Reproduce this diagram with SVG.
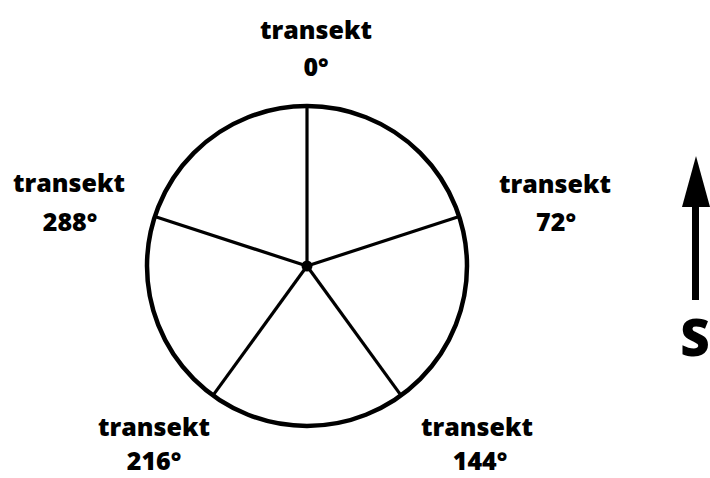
<svg xmlns="http://www.w3.org/2000/svg" width="710" height="478" viewBox="0 0 710 478">
<style>
.lbl{font-family:"Open Sans","Liberation Sans",sans-serif;font-weight:800;font-size:25px;fill:#000;text-anchor:middle}
.spoke{stroke:#000;stroke-width:3.2;fill:none}
</style>
<rect width="710" height="478" fill="#fff"/>
<g id="circle">
<circle cx="307" cy="266" r="160" fill="none" stroke="#000" stroke-width="4.5"/>
</g>
<g id="spokes">
<line class="spoke" x1="307" y1="266" x2="307" y2="106"/>
<line class="spoke" x1="307" y1="266" x2="459.2" y2="216.6"/>
<line class="spoke" x1="307" y1="266" x2="401.0" y2="395.4"/>
<line class="spoke" x1="307" y1="266" x2="213.0" y2="395.4"/>
<line class="spoke" x1="307" y1="266" x2="154.8" y2="216.6"/>
</g>
<g id="center"><circle cx="307" cy="266" r="5.5" fill="#000"/></g>
<g id="t0"><text class="lbl" x="316" y="39">transekt</text><text class="lbl" x="316" y="76">0°</text></g>
<g id="t72"><text class="lbl" x="555" y="193">transekt</text><text class="lbl" x="556" y="231">72°</text></g>
<g id="t144"><text class="lbl" x="477" y="436">transekt</text><text class="lbl" x="480" y="470">144°</text></g>
<g id="t216"><text class="lbl" x="154" y="436">transekt</text><text class="lbl" x="154" y="470">216°</text></g>
<g id="t288"><text class="lbl" x="69" y="192">transekt</text><text class="lbl" x="70" y="231">288°</text></g>
<g id="north">
<line x1="695.5" y1="205" x2="695.5" y2="300" stroke="#000" stroke-width="7"/>
<polygon points="696,156 682,207 710,207" fill="#000"/>
<text x="695" y="356" style="font-family:'Open Sans','Liberation Sans',sans-serif;font-weight:800;font-size:51px;text-anchor:middle">S</text>
</g>
</svg>
